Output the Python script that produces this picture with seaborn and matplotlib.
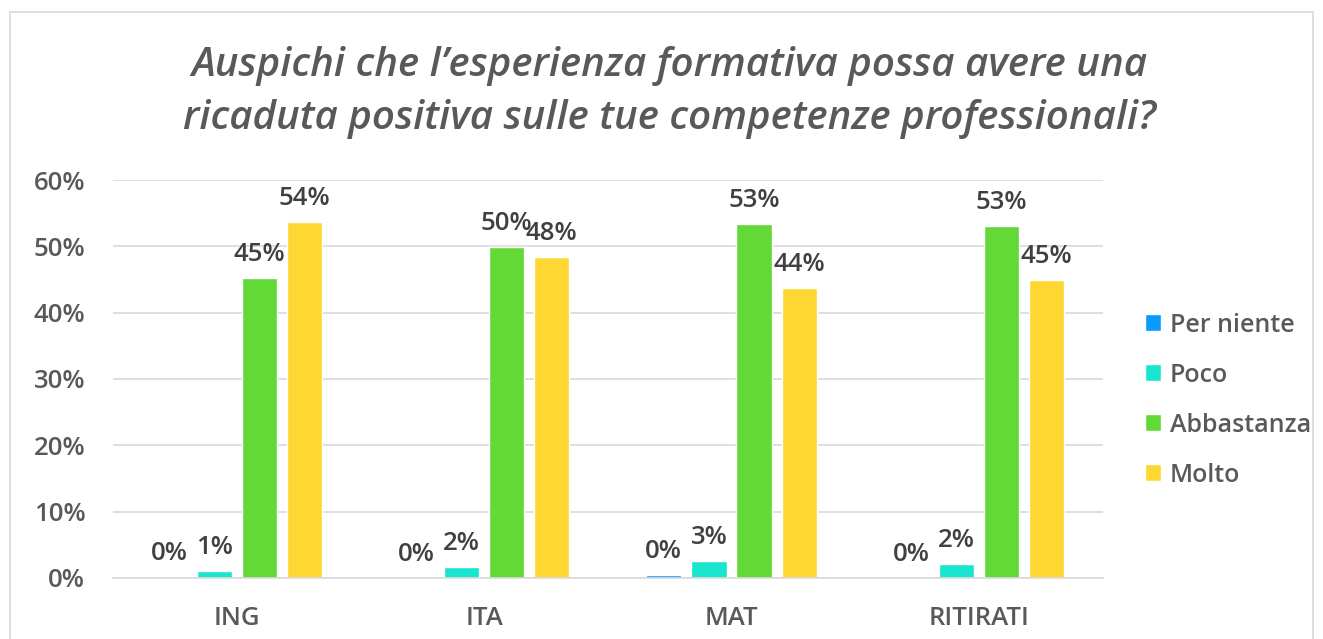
import pandas as pd
import numpy as np
import seaborn as sns
import matplotlib.pyplot as plt
from matplotlib.patches import Rectangle
from matplotlib.ticker import PercentFormatter

# ------------------------------
# data
# ------------------------------
categories = ["ING", "ITA", "MAT", "RITIRATI"]
answers = ["Per niente", "Poco", "Abbastanza", "Molto"]

per_niente = [0.001, 0.0, 0.0045, 0.0]
poco = [0.010, 0.017, 0.026, 0.021]
abbastanza = [0.452, 0.499, 0.534, 0.531]
molto = [0.537, 0.484, 0.437, 0.449]

colors = ["#0A9BFF", "#1AE6D0", "#62D937", "#FFD733"]
title = "Auspichi che l’esperienza formativa possa avere una\nricaduta positiva sulle tue competenze professionali?"

rows = []
for ans, vals in zip(answers, [per_niente, poco, abbastanza, molto]):
    for cat, v in zip(categories, vals):
        rows.append({"Corso": cat, "Risposta": ans, "Valore": v})
df = pd.DataFrame(rows)

# ------------------------------
# plot
# ------------------------------
sns.set_theme(style="white")
plt.rcParams["font.family"] = ["Open Sans", "DejaVu Sans"]
plt.rcParams["font.weight"] = 600

fig = plt.figure(figsize=(13.23, 6.39), dpi=100)
ax = fig.add_axes([0.0854, 0.0955, 0.748, 0.6228])

sns.barplot(data=df, x="Corso", y="Valore", hue="Risposta", order=categories,
            hue_order=answers, palette=colors, width=0.73, gap=0.22,
            saturation=1, ax=ax, errorbar=None)

for cont in ax.containers:
    ax.bar_label(cont, labels=[f"{v*100:.0f}%" for v in cont.datavalues],
                 padding=8, fontsize=18.5, color="#404040", fontweight=600)

ax.set_ylim(0, 0.6)
ax.set_yticks(np.arange(0, 0.61, 0.1))
ax.yaxis.set_major_formatter(PercentFormatter(1.0, decimals=0))
ax.grid(axis="y", color="#D9D9D9", linewidth=1.2)
ax.set_axisbelow(True)
for s in ["top", "right", "left"]:
    ax.spines[s].set_visible(False)
ax.spines["bottom"].set_color("#D9D9D9")
ax.spines["bottom"].set_linewidth(1.2)
ax.tick_params(axis="both", length=0, labelsize=18.5, colors="#595959")
ax.tick_params(axis="x", pad=20)
ax.tick_params(axis="y", pad=20)
for lbl in ax.get_xticklabels() + ax.get_yticklabels():
    lbl.set_fontweight(600)
ax.set_xlabel("")
ax.set_ylabel("")

leg = ax.legend(loc="center left", bbox_to_anchor=(1.02, 0.447), frameon=False,
                prop={"size": 18, "weight": 600}, handlelength=0.65,
                handleheight=0.65, handletextpad=0.35, labelspacing=1.0)
for t in leg.get_texts():
    t.set_color("#595959")

fig.text(0.506, 0.855, title, ha="center", va="center", fontsize=29,
         style="italic", fontweight=600, color="#595959", linespacing=1.45)

# light frame around the chart area
fig.patches.append(Rectangle((10 / 1323, -0.05), 1303 / 1323, 1.05 - 12 / 639,
                             transform=fig.transFigure, fill=False,
                             edgecolor="#D9D9D9", linewidth=1.2))

fig.savefig("out.png", dpi=100)
